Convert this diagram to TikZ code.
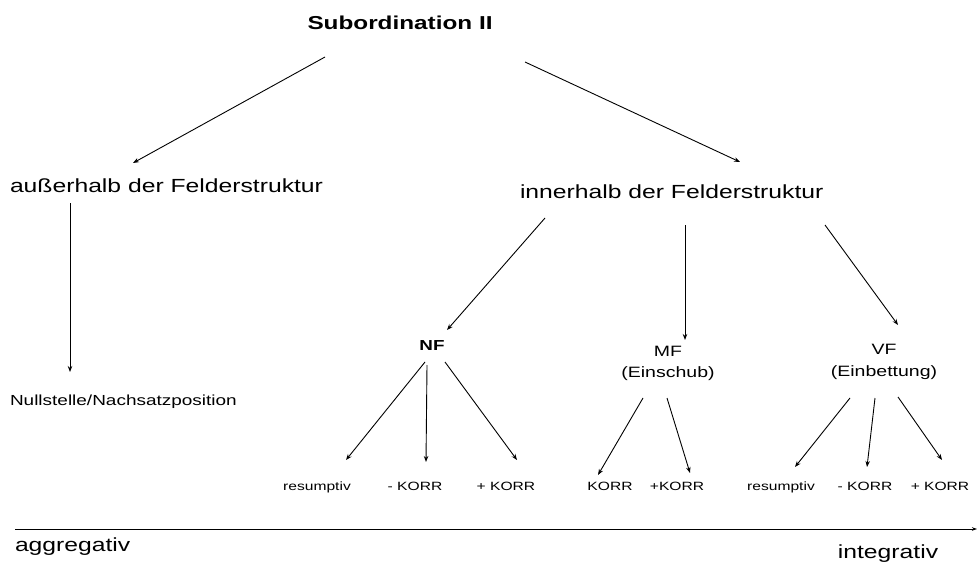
\documentclass[tikz,border=0pt]{standalone}
\usepackage{fontspec}
\setmainfont{Liberation Sans}[FakeStretch=1.3]
\usetikzlibrary{arrows.meta,calc}
\tikzset{
  lbl/.style={inner sep=0pt, outer sep=0pt},
  big/.style={lbl, font=\fontsize{19}{19}\selectfont},
  mid/.style={lbl, font=\fontsize{15}{21}\selectfont, align=center},
  small/.style={lbl, font=\fontsize{12}{12}\selectfont},
  arr/.style={line width=0.9pt, -{Stealth[length=6pt,width=4.5pt]}},
}
\begin{document}
\begin{tikzpicture}[x=1pt,y=-1pt]
\useasboundingbox (0,0) rectangle (979,567);
% texts
\node[lbl, font=\fontsize{18.7}{19}\selectfont\bfseries, anchor=base] (title) at (400,30) {Subordination II};
\node[big, anchor=base west] (aus) at (10,192) {außerhalb der Felderstruktur};
\node[big, anchor=base west] (inn) at (520,198) {innerhalb der Felderstruktur};
\node[lbl, font=\fontsize{14.6}{15}\selectfont, anchor=base west] (null) at (10,405) {Nullstelle/Nachsatzposition};
\node[lbl, font=\fontsize{14.5}{15}\selectfont\bfseries, anchor=base] (NF) at (432,350) {NF};
\node[mid, anchor=north] (MF) at (668,346) {MF\\(Einschub)};
\node[mid, anchor=north, font=\fontsize{15}{22}\selectfont] (VF) at (884,344) {VF\\(Einbettung)};
\node[small, anchor=base] (nf1) at (317,490) {resumptiv};
\node[small, anchor=base] (nf2) at (415,490) {- KORR};
\node[small, anchor=base] (nf3) at (506,490) {+ KORR};
\node[small, anchor=base] (mf1) at (610,490) {KORR};
\node[small, anchor=base] (mf2) at (677,490) {+KORR};
\node[small, anchor=base] (vf1) at (781,490) {resumptiv};
\node[small, anchor=base] (vf2) at (865,490) {- KORR};
\node[small, anchor=base] (vf3) at (940,490) {+ KORR};
\node[big, anchor=base west] (agg) at (15,551) {aggregativ};
\node[big, anchor=base] (integ) at (888,558) {integrativ};
% connectors
\draw[arr] ($(title.base)+(-75,27)$) -- ($(aus.base west)+(123,-29)$);
\draw[arr] ($(title.base)+(125,32)$) -- ($(inn.base west)+(220,-36)$);
\draw[arr] ($(aus.base west)+(60,11)$) -- ($(null.base west)+(60,-33)$);
\draw[arr] ($(inn.base west)+(25,20)$) -- ($(NF.base)+(15,-20)$);
\draw[arr] ($(inn.base west)+(165,27)$) -- ($(MF.north)+(17,-6)$);
\draw[arr] ($(inn.base west)+(305,27)$) -- ($(VF.north)+(14,-19)$);
\draw[arr] ($(NF.base)+(-7,12)$) -- ($(nf1.base)+(29,-30)$);
\draw[arr] ($(NF.base)+(-5,15)$) -- ($(nf2.base)+(11,-28)$);
\draw[arr] ($(NF.base)+(13,12)$) -- ($(nf3.base)+(11,-30)$);
\draw[arr] ($(MF.north)+(-25,52)$) -- ($(mf1.base)+(-12,-15)$);
\draw[arr] ($(MF.north)+(-1,52)$) -- ($(mf2.base)+(13,-17)$);
\draw[arr] ($(VF.north)+(-34,54)$) -- ($(vf1.base)+(14,-23)$);
\draw[arr] ($(VF.north)+(-9,54)$) -- ($(vf2.base)+(2,-23)$);
\draw[arr] ($(VF.north)+(14,53)$) -- ($(vf3.base)+(2,-30)$);
% axis
\coordinate (axL) at (15,529);
\coordinate (axR) at (977,529);
\draw[line width=0.9pt, -{Stealth[length=5pt,width=3.5pt]}] (axL) -- (axR);
\end{tikzpicture}
\end{document}
